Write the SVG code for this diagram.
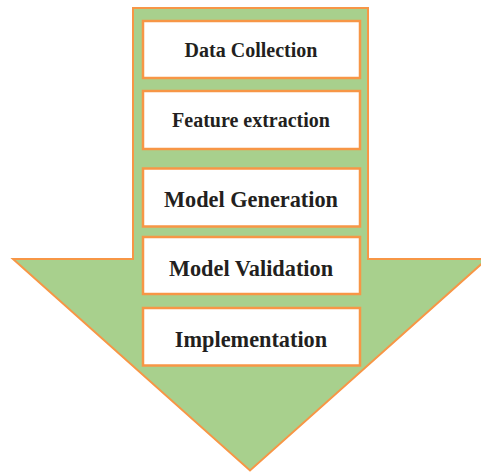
<svg xmlns="http://www.w3.org/2000/svg" width="481" height="472" viewBox="0 0 481 472">
  <style>
    .arrow { fill: #A8D08D; stroke: #F79646; stroke-width: 2; stroke-linejoin: miter; }
    .step rect { fill: #FFFFFF; stroke: #F79646; stroke-width: 2.5; }
    .step text { font-family: 'Liberation Serif', 'Times New Roman', serif; font-weight: 700; fill: #231F20; text-anchor: middle; }
    .small { font-size: 20px; }
    .large { font-size: 22.3px; }
  </style>
  <rect width="481" height="472" fill="#FFFFFF"/>
  <!-- big downward block arrow that carries the process steps -->
  <g id="connectors">
    <polygon class="arrow" points="133,8 368,8 368,259 487,259 250,470.5 13,259 133,259"/>
  </g>
  <g id="data-collection" class="step">
    <rect x="143" y="21" width="217" height="57"/>
    <text class="small" x="251" y="56.7">Data Collection</text>
  </g>
  <g id="feature-extraction" class="step">
    <rect x="143" y="91" width="217" height="58"/>
    <text class="small" x="251" y="126.7">Feature extraction</text>
  </g>
  <g id="model-generation" class="step">
    <rect x="143" y="168.5" width="217" height="58"/>
    <text class="large" x="251" y="206.7">Model Generation</text>
  </g>
  <g id="model-validation" class="step">
    <rect x="143" y="237" width="217" height="57"/>
    <text class="large" x="251" y="276">Model Validation</text>
  </g>
  <g id="implementation" class="step">
    <rect x="143" y="308" width="217" height="57.5"/>
    <text class="large" x="251" y="346.7">Implementation</text>
  </g>
</svg>
